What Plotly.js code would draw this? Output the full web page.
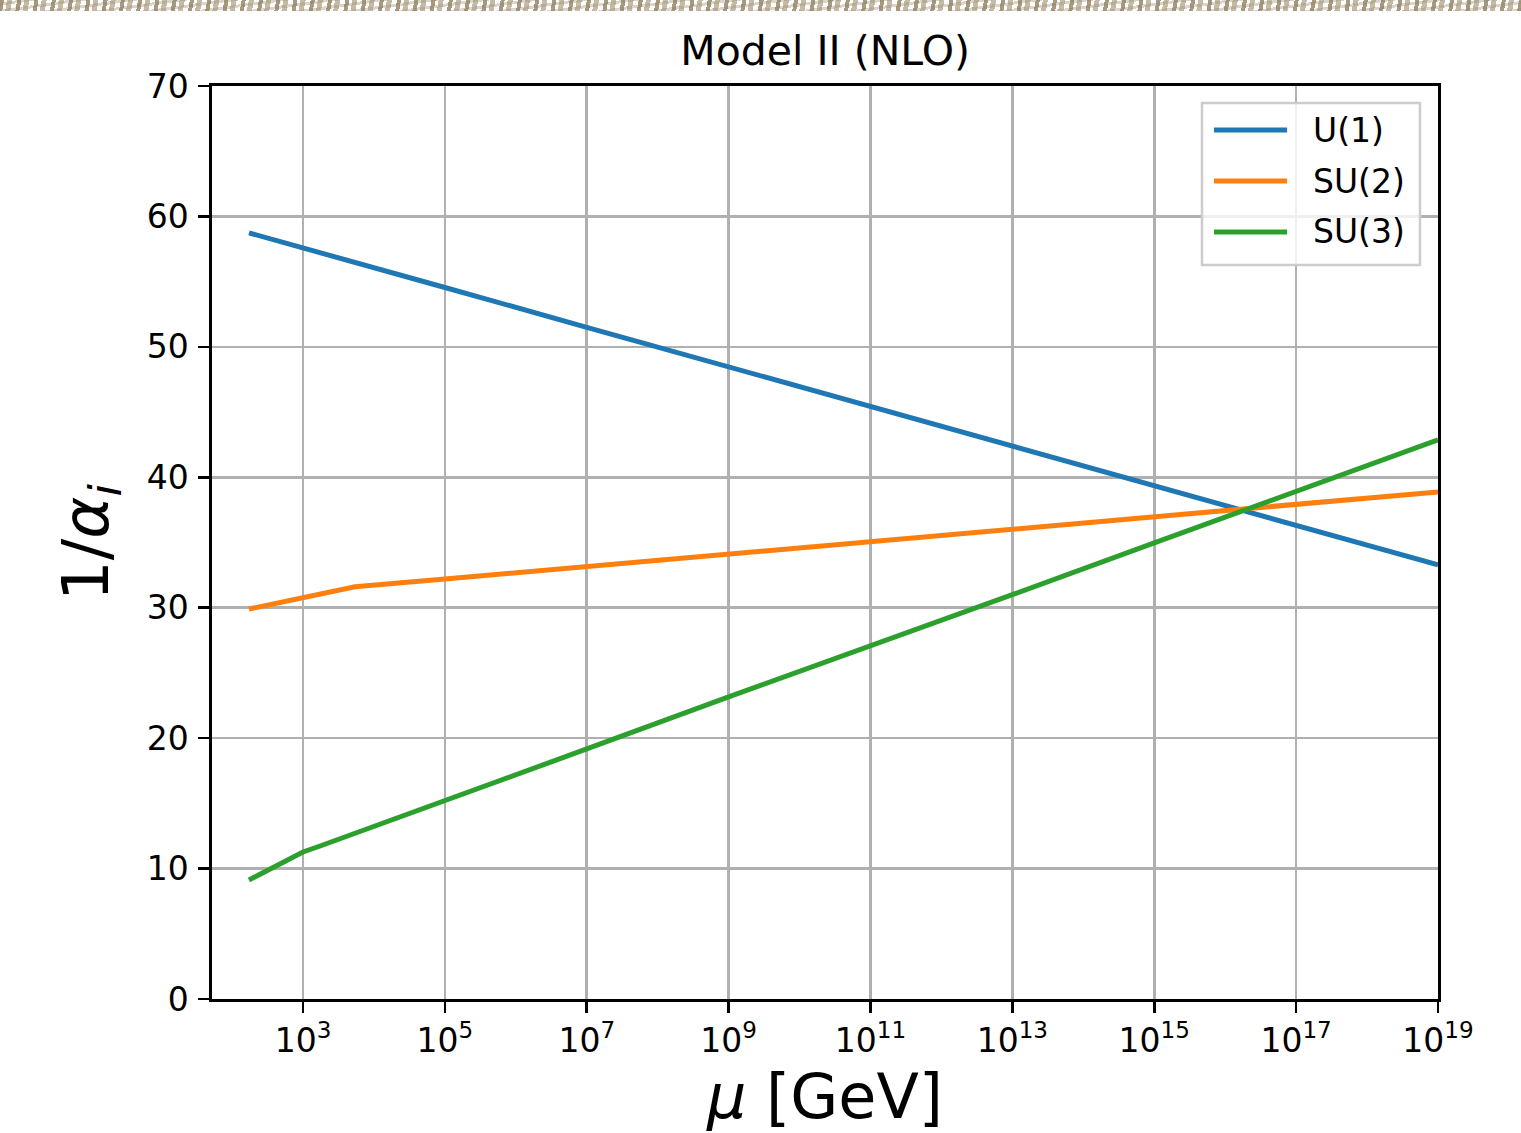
<!DOCTYPE html>
<html>
<head>
<meta charset="utf-8">
<script src="https://cdn.plot.ly/plotly-3.0.1.min.js"></script>
<style>
  html, body { margin: 0; padding: 0; background: #ffffff; }
  #strip {
    position: absolute; left: 0; top: 0; width: 1521px; height: 11px; z-index: 5;
    background:
      repeating-linear-gradient(100deg, rgba(145,128,96,0.8) 0 4px, rgba(255,255,255,0) 4px 7px, rgba(165,150,118,0.65) 7px 12px, rgba(255,255,255,0) 12px 17px),
      repeating-linear-gradient(-8deg, rgba(150,135,105,0.35) 0 3px, rgba(255,255,255,0) 3px 7px);
  }
  #chart { width: 1521px; height: 1133px; }
</style>
</head>
<body>
<div id="strip"></div>
<div id="chart"></div>
<script>
// Data (mu in GeV, values are 1/alpha_i)
const muU1  = [173, 1e3, 1.78e3, 1e5, 1e7, 1e9, 1e11, 1e13, 1e15, 1e17, 1e19];
const invU1 = [58.74, 57.6, 57.2, 54.55, 51.5, 48.47, 45.43, 42.4, 39.36, 36.32, 33.28];

const muSU2  = [173, 1e3, 5.4e3, 1e5, 1e7, 1e9, 1e11, 1e13, 1e15, 1e17, 1e19];
const invSU2 = [29.9, 30.8, 31.6, 32.2, 33.16, 34.11, 35.07, 36.0, 36.97, 37.93, 38.88];

const muSU3  = [173, 1e3, 1.78e3, 1e5, 1e7, 1e9, 1e11, 1e13, 1e15, 1e17, 1e19];
const invSU3 = [9.13, 11.27, 11.75, 15.18, 19.17, 23.16, 27.05, 31.0, 34.97, 38.96, 42.87];

const seriesNames  = ["U(1)", "SU(2)", "SU(3)"];
const seriesColors = ["#1f77b4", "#ff7f0e", "#2ca02c"];

const xTickVals = [1e3, 1e5, 1e7, 1e9, 1e11, 1e13, 1e15, 1e17, 1e19];
const xTickText = ["10<sup>3</sup>", "10<sup>5</sup>", "10<sup>7</sup>", "10<sup>9</sup>",
                   "10<sup>11</sup>", "10<sup>13</sup>", "10<sup>15</sup>", "10<sup>17</sup>", "10<sup>19</sup>"];
const yTickVals = [0, 10, 20, 30, 40, 50, 60, 70];

const xs = [muU1, muSU2, muSU3];
const ys = [invU1, invSU2, invSU3];

const traces = seriesNames.map((name, i) => ({
  x: xs[i], y: ys[i], type: "scatter", mode: "lines", name: name,
  showlegend: false,
  line: { color: seriesColors[i], width: 5 }
}));

// Custom legend (matplotlib style: long line samples, light-grey frame)
const legBox = { x0: 0.8075, x1: 0.9853, y0: 0.8039, y1: 0.9814 };
const legRowY = [0.9518, 0.8959, 0.8401];
const legLineX = [0.8173, 0.8769];
const legTextX = 0.8968;

const shapes = [{
  type: "rect", xref: "paper", yref: "paper",
  x0: legBox.x0, x1: legBox.x1, y0: legBox.y0, y1: legBox.y1,
  fillcolor: "rgba(255,255,255,0.8)", line: { color: "#cccccc", width: 2.5 }, layer: "above"
}];
const annotations = [];
seriesNames.forEach((name, i) => {
  shapes.push({
    type: "line", xref: "paper", yref: "paper",
    x0: legLineX[0], x1: legLineX[1], y0: legRowY[i], y1: legRowY[i],
    line: { color: seriesColors[i], width: 5 }, layer: "above"
  });
  annotations.push({
    xref: "paper", yref: "paper", x: legTextX, y: legRowY[i],
    xanchor: "left", yanchor: "middle", showarrow: false, text: name,
    font: { family: "DejaVu Sans, sans-serif", size: 33, color: "#000" }
  });
});

const font = "DejaVu Sans, sans-serif";
const layout = {
  width: 1521, height: 1133,
  margin: { l: 212, r: 83, t: 86, b: 134, pad: 0 },
  paper_bgcolor: "#ffffff", plot_bgcolor: "#ffffff",
  font: { family: font, color: "#000000", size: 33 },
  title: { text: "Model II (NLO)", font: { family: font, size: 41, color: "#000" },
           x: 0.5425, xanchor: "center", y: 0.955, yanchor: "middle" },
  showlegend: false,
  shapes: shapes,
  annotations: annotations,
  xaxis: {
    type: "log", range: [1.717, 19.0], autorange: false,
    tickvals: xTickVals, ticktext: xTickText,
    showgrid: true, gridcolor: "#b0b0b0", gridwidth: 2.6,
    showline: true, linecolor: "#000", linewidth: 2.6, mirror: true,
    ticks: "outside", ticklen: 11, tickwidth: 2.6, tickcolor: "#000",
    tickfont: { family: font, size: 33, color: "#000" },
    zeroline: false,
    title: { text: "<i>μ</i> [GeV]", font: { family: font, size: 62, color: "#000" }, standoff: 20 }
  },
  yaxis: {
    range: [0, 70], autorange: false,
    tickvals: yTickVals,
    showgrid: true, gridcolor: "#b0b0b0", gridwidth: 2.6,
    showline: true, linecolor: "#000", linewidth: 2.6, mirror: true,
    ticks: "outside", ticklen: 11, tickwidth: 2.6, tickcolor: "#000",
    ticklabelstandoff: 3,
    tickfont: { family: font, size: 33, color: "#000" },
    zeroline: false,
    title: { text: "1/<i>α</i><sub><i>i</i></sub>", font: { family: font, size: 64, color: "#000" }, standoff: 18 }
  }
};

Plotly.newPlot("chart", traces, layout, { staticPlot: true, displayModeBar: false });
</script>
</body>
</html>
